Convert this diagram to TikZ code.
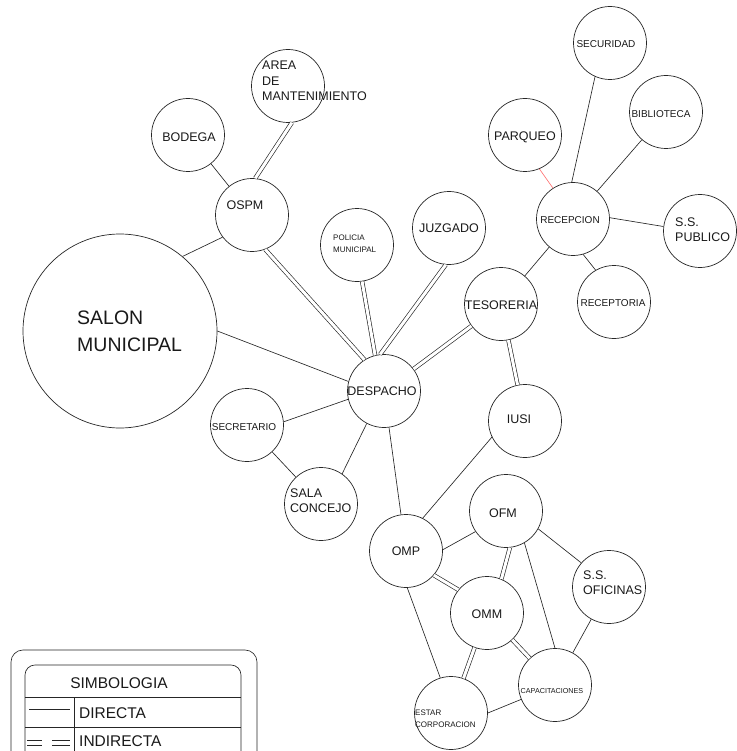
\documentclass[tikz,border=0pt]{standalone}
\usepackage{fontspec}
\setmainfont{Liberation Sans}
\usetikzlibrary{positioning}

\begin{document}
\begin{tikzpicture}[x=1pt, y=-1pt,
  ofi/.style={circle, draw=black!85, line width=0.7pt, minimum size=#1, inner sep=0pt},
  ofi/.default=73pt,
  lbl/.style={inner sep=0pt, text=black!90, align=left,
    font=\fontsize{12.5}{15.5}\selectfont},
  lblS/.style={lbl, font=\fontsize{10}{12}\selectfont},
  lblXS/.style={lbl, font=\fontsize{8}{12}\selectfont},
  lblL/.style={lbl, font=\fontsize{15.5}{18}\selectfont},
  dir/.style={draw=black!85, line width=0.65pt},
  ind/.style={draw=black!85, line width=0.65pt, double, double distance=3pt}
]
  \useasboundingbox (0,0) rectangle (736,751);

  % dependencias
  \node[ofi=194pt] (salon) at (120,331) {};
  \node[ofi] (ospm) at (252,215) {};
  \node[ofi] (bodega) at (188,135) {};
  \node[ofi] (area) at (288,86) {};
  \node[ofi] (policia) at (357,245) {};
  \node[ofi] (juzgado) at (449,228) {};
  \node[ofi] (despacho) at (384,391) {};
  \node[ofi] (tesoreria) at (501,304) {};
  \node[ofi] (iusi) at (525,421) {};
  \node[ofi] (secretario) at (247,425) {};
  \node[ofi] (sala) at (321,504) {};
  \node[ofi] (omp) at (406,551) {};
  \node[ofi] (ofm) at (506,511) {};
  \node[ofi] (omm) at (487,613) {};
  \node[ofi] (ssofi) at (609,587) {};
  \node[ofi] (capac) at (555,685) {};
  \node[ofi] (estar) at (451,713) {};
  \node[ofi] (seguridad) at (610,43) {};
  \node[ofi] (biblio) at (666,112) {};
  \node[ofi] (parqueo) at (525,135) {};
  \node[ofi] (recepcion) at (573,219) {};
  \node[ofi] (sspub) at (700,231) {};
  \node[ofi] (receptoria) at (614,302) {};

  % nombres
  \node[lbl, font=\fontsize{19.5}{27}\selectfont, anchor=west] (tsalon) at (77,331.5) {SALON\\MUNICIPAL};
  \node[lbl] (tospm) at (245,205) {OSPM};
  \node[lbl] (tbodega) at (189,137) {BODEGA};
  \node[lbl, anchor=west] (tarea) at (262,81) {AREA\\DE\\MANTENIMIENTO};
  \node[lblXS, anchor=west] (tpolicia) at (333,244) {POLICIA\\MUNICIPAL};
  \node[lbl] (tjuzgado) at (449,228) {JUZGADO};
  \node[lbl] (tdespacho) at (382,391) {DESPACHO};
  \node[lbl] (ttesoreria) at (501,305) {TESORERIA};
  \node[lbl] (tiusi) at (519,419) {IUSI};
  \node[lblS] (tsecretario) at (244,427) {SECRETARIO};
  \node[lbl, anchor=west] (tsala) at (290,500.5) {SALA\\CONCEJO};
  \node[lbl] (tomp) at (406,551) {OMP};
  \node[lbl] (tofm) at (503,513) {OFM};
  \node[lbl] (tomm) at (487,614) {OMM};
  \node[lbl, anchor=west] (tssofi) at (583,582.5) {S.S.\\OFICINAS};
  \node[lbl, font=\fontsize{7.2}{9}\selectfont] (tcapac) at (552,691) {CAPACITACIONES};
  \node[lblXS, anchor=west] (testar) at (415,719) {ESTAR\\CORPORACION};
  \node[lblS] (tseguridad) at (606,44) {SECURIDAD};
  \node[lblS] (tbiblio) at (661,114) {BIBLIOTECA};
  \node[lbl] (tparqueo) at (525,137) {PARQUEO};
  \node[lblS] (trecepcion) at (570,220) {RECEPCION};
  \node[lbl, anchor=west] (tsspub) at (675,229.5) {S.S.\\PUBLICO};
  \node[lblS] (treceptoria) at (613,303) {RECEPTORIA};

  % relaciones
  \draw[dir] (salon.50) -- (ospm.217);
  \draw[dir] (salon.east) -- (despacho.165);
  \draw[dir] (bodega) -- (ospm);
  \draw[ind] (ospm.85) -- (area.-84);
  \draw[ind] (ospm.-69) -- (despacho.122);
  \draw[ind] (policia.-82) -- (despacho.104);
  \draw[ind] (juzgado.-95) -- (despacho.96);
  \draw[ind] (despacho) -- (tesoreria);
  \draw[ind] (tesoreria) -- (iusi);
  \draw[dir] (tesoreria) -- (recepcion);
  \draw[dir, draw=red!55] (parqueo.-67) -- (recepcion.123);
  \draw[dir] (seguridad.246) -- (recepcion.92);
  \draw[dir] (biblio) -- (recepcion);
  \draw[dir] (recepcion.2) -- (sspub.173);
  \draw[dir] (recepcion.-74) -- (receptoria.120);
  \draw[dir] (secretario.5) -- (despacho.193);
  \draw[dir] (secretario) -- (sala);
  \draw[dir] (sala.55) -- (despacho.242);
  \draw[dir] (despacho) -- (omp);
  \draw[dir] (iusi.206) -- (omp.63);
  \draw[dir] (omp.2) -- (ofm.214);
  \draw[ind] (omp.-41) -- (omm.141);
  \draw[dir] (omp.-88) -- (estar.107);
  \draw[ind] (ofm.-84) -- (omm.67);
  \draw[dir] (ofm.-29) -- (ssofi.139);
  \draw[dir] (ofm.-60) -- (capac.90);
  \draw[dir] (ssofi) -- (capac);
  \draw[ind] (omm) -- (capac);
  \draw[ind] (omm) -- (estar);
  \draw[dir] (capac.203) -- (estar.0);

  % simbologia
  \draw[dir, rounded corners=12pt] (11,751) |- (257,650) -- (257,751);
  \draw[dir, rounded corners=10pt] (25,751) |- (241,665) -- (241,751);
  \draw[dir] (25,697) -- (241,697) (25,727) -- (241,727) (74,697) -- (74,751);
  \draw[dir] (29,709) -- (70,709);
  \draw[dir] (27,740) -- (42,740) (27,745) -- (42,745)
             (52,740) -- (70,740) (52,745) -- (70,745);
  \node[lblL] (tsimb) at (119,683) {SIMBOLOGIA};
  \node[lblL, anchor=west] (tdir) at (79,713) {DIRECTA};
  \node[lblL, anchor=west] (tind) at (79,741) {INDIRECTA};
\end{tikzpicture}
\end{document}
